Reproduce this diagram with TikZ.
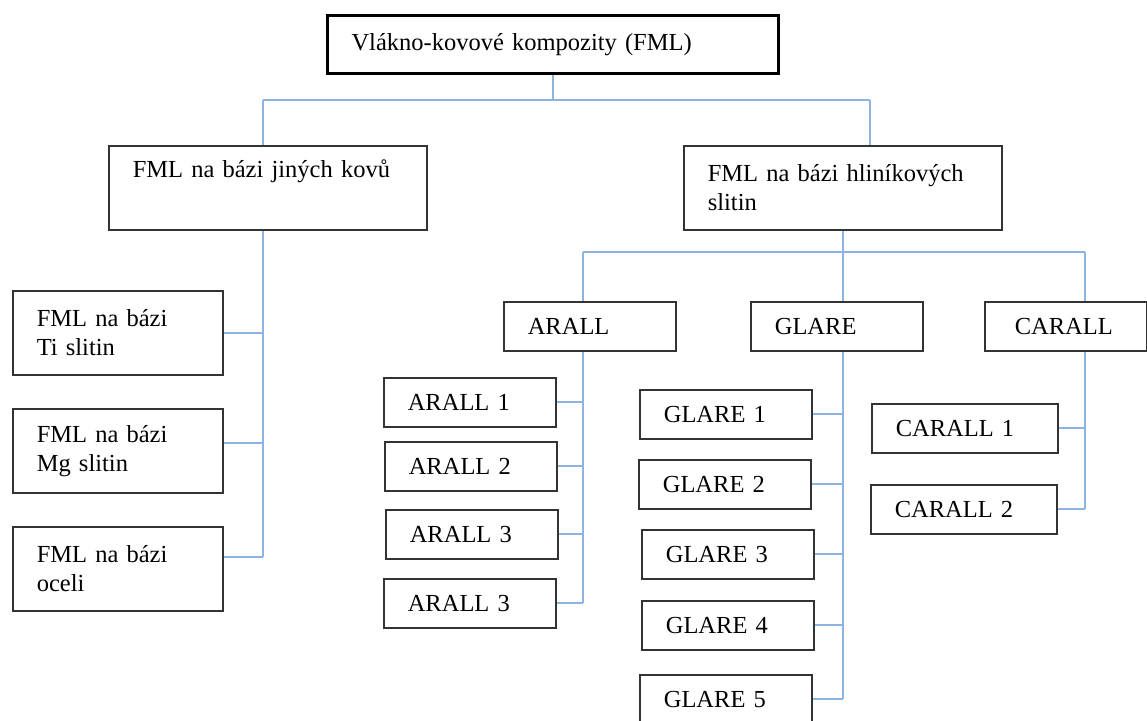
\documentclass[tikz,border=0pt]{standalone}
\usepackage{fontspec}
\setmainfont{Liberation Serif}
\definecolor{linkblue}{RGB}{141,180,226}
\tikzset{
  box/.style={draw=black!80,line width=1.6pt,anchor=north west,align=left,
    inner xsep=24pt,inner ysep=0pt,font=\fontsize{24.5}{29}\selectfont},
  topbox/.style={box,draw=black,line width=3pt,text width=403pt,minimum height=58pt},
  midbox/.style={box,text width=270pt,minimum height=84pt},
  tallbox/.style={box,text width=162pt,minimum height=84pt},
  smallbox/.style={box,text width=124pt,minimum height=49pt},
  widebox/.style={box,text width=138pt,minimum height=49pt},
  link/.style={draw=linkblue,line width=1.7pt}
}

\begin{document}
\begin{tikzpicture}[x=1pt,y=-1pt]
  \useasboundingbox (0,0) rectangle (1147,720);
  \node[topbox] (top) at (326,14) {Vlákno-kovové kompozity (FML)};
  \node[midbox] (oth) at (108,145) {FML na bázi jiných kovů\\ \strut};
  \node[midbox] (alu) at (683,145) {FML na bázi hliníkových\\ slitin};
  \node[tallbox] (ti) at (12,290) {FML na bázi\\ Ti slitin};
  \node[tallbox] (mg) at (12,408) {FML na bázi\\ Mg slitin};
  \node[tallbox] (ocel) at (12,526) {FML na bázi\\ oceli};
  \node[smallbox] (arall) at (503,301) {ARALL};
  \node[smallbox] (glare) at (750,301) {GLARE};
  \node[smallbox,inner xsep=30pt,text width=102pt] (carall) at (984,301) {CARALL};
  \node[smallbox] (a1) at (383,377) {ARALL 1};
  \node[smallbox] (a2) at (384,441) {ARALL 2};
  \node[smallbox] (a3) at (385,509) {ARALL 3};
  \node[smallbox] (a4) at (383,578) {ARALL 3};
  \node[smallbox] (g1) at (639,389) {GLARE 1};
  \node[smallbox] (g2) at (638,459) {GLARE 2};
  \node[smallbox] (g3) at (641,529) {GLARE 3};
  \node[smallbox] (g4) at (641,600) {GLARE 4};
  \node[smallbox] (g5) at (639,674) {GLARE 5};
  \node[widebox] (c1) at (871,403) {CARALL 1};
  \node[widebox] (c2) at (870,484) {CARALL 2};

  \coordinate (busL) at (263,100);
  \coordinate (busR) at (870,100);
  \coordinate (bus2L) at (583,252);
  \coordinate (bus2R) at (1085,252);
  \coordinate (mgJ) at ([yshift=8pt]mg.east);
  \coordinate (ocelJ) at ([yshift=12pt]ocel.east);

  \draw[link] (top.south) -- (top.south |- busL);
  \draw[link] (busL) -- (busR);
  \draw[link] (busL) -- (busL |- oth.north);
  \draw[link] (busR) -- (busR |- alu.north);
  \draw[link] (busL |- oth.south) -- (busL |- ocelJ);
  \foreach \j in {ti.east,mgJ,ocelJ}
    \draw[link] (\j) -- (busL |- \j);

  \draw[link] (bus2L) -- (bus2R);
  \draw[link] (alu.south) -- (alu.south |- glare.north);
  \draw[link] (bus2L) -- (bus2L |- arall.north);
  \draw[link] (bus2R) -- (bus2R |- carall.north);
  \draw[link] (bus2L |- arall.south) -- (bus2L |- a4.east);
  \draw[link] (alu.south |- glare.south) -- (alu.south |- g5.east);
  \draw[link] (bus2R |- carall.south) -- (bus2R |- c2.east);
  \foreach \n in {a1,a2,a3,a4}
    \draw[link] (\n.east) -- (bus2L |- \n.east);
  \foreach \n in {g1,g2,g3,g4,g5}
    \draw[link] (\n.east) -- (alu.south |- \n.east);
  \foreach \n in {c1,c2}
    \draw[link] (\n.east) -- (bus2R |- \n.east);
\end{tikzpicture}
\end{document}
